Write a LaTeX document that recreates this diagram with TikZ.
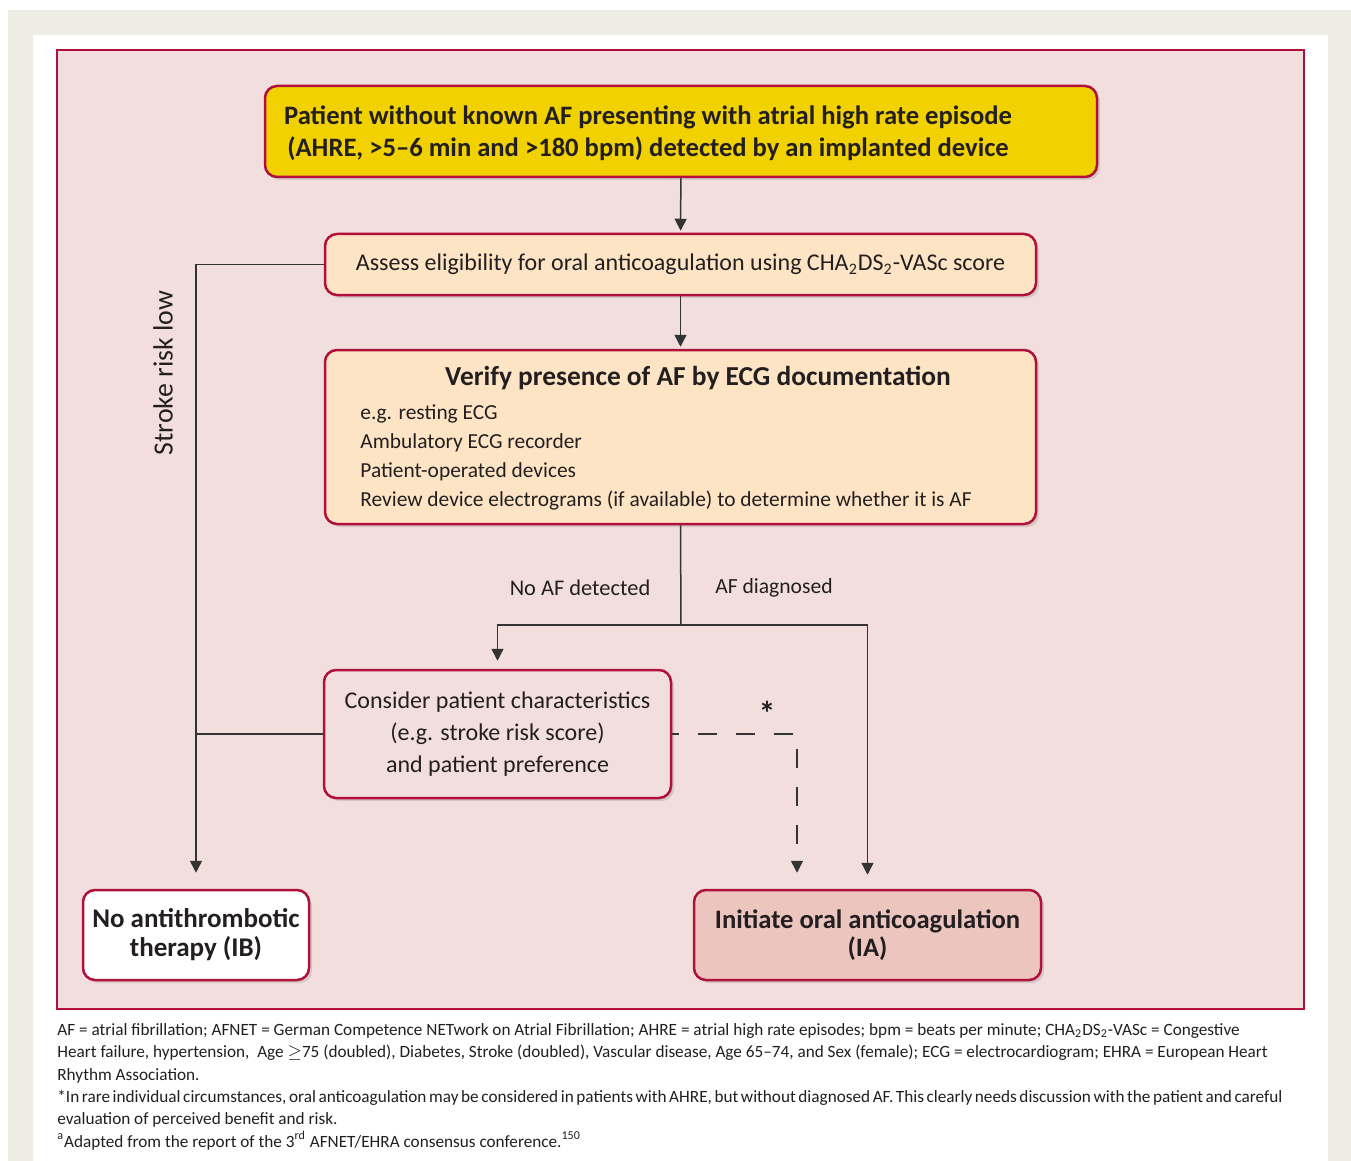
\documentclass[tikz,border=0pt]{standalone}
\usepackage{fontspec}
\setmainfont{Carlito}
\usetikzlibrary{positioning,shadows,arrows.meta}
\definecolor{framebeige}{HTML}{EEEDE3}
\definecolor{panelpink}{HTML}{F2DFDD}
\definecolor{crimson}{HTML}{B0103A}
\definecolor{ahreyellow}{HTML}{F2D100}
\definecolor{peach}{HTML}{FDE4C4}
\definecolor{oacpink}{HTML}{ECC5BF}
\definecolor{linegray}{HTML}{333333}
\definecolor{inkgray}{HTML}{231F20}

\begin{document}
\begin{tikzpicture}[x=0.5pt, y=-0.5pt, >={Triangle[width=6pt,length=6pt]},
    box/.style={draw=crimson, line width=1.25pt, rounded corners=6pt, inner sep=0pt,
        align=center, text=inkgray,
        drop shadow={opacity=0.25, shadow xshift=1.5pt, shadow yshift=-1.5pt}},
    link/.style={draw=linegray, line width=0.75pt},
    txt/.style={text=inkgray, inner sep=0pt},
    mid/.style={font=\fontsize{12}{16}\selectfont}]
    \useasboundingbox (0,0) rectangle (1351,1161);

    % page frame and panel
    \fill[white] (0,0) rectangle (1351,1161);
    \fill[framebeige] (8,10) rectangle (1351,1161);
    \fill[white] (33,35) rectangle (1328,1161);
    \filldraw[fill=panelpink, draw=crimson, line width=0.75pt] (57,50) rectangle (1304,1009);

    % boxes
    \node[box, fill=ahreyellow, minimum width=416pt, minimum height=45.5pt] (ahre) at (681,131.5) {};
    \node[txt, align=center, font=\fontsize{13.3}{16}\selectfont\bfseries] (ahretext) at (648,133)
        {Patient without known AF presenting with atrial high rate episode\\
         (AHRE, >5--6 min and >180 bpm) detected by an implanted device};
    \node[box, fill=peach, mid, minimum width=355.5pt, minimum height=30.5pt] (assess) at (680.5,264.5)
        {Assess eligibility for oral anticoagulation using CHA\textsubscript{2}DS\textsubscript{2}-VASc score};
    \node[box, fill=peach, minimum width=355.5pt, minimum height=87pt] (verify) at (680.5,437) {};
    \node[txt, font=\fontsize{13.7}{15}\selectfont\bfseries] (verifyhead) at (698,378)
        {Verify presence of AF by ECG documentation};
    \node[txt, align=left, anchor=west, font=\fontsize{10.7}{14.5}\selectfont] (verifylist) at (360,457)
        {e.g. resting ECG\\
         Ambulatory ECG recorder\\
         Patient-operated devices\\
         Review device electrograms (if available) to determine whether it is AF};
    \node[box, fill=panelpink, mid, minimum width=173.5pt, minimum height=64pt] (consider) at (497.5,734)
        {Consider patient characteristics\\
         (e.g. stroke risk score)\\
         and patient preference};
    \node[box, fill=white, font=\fontsize{13.5}{14.5}\selectfont\bfseries, minimum width=113pt, minimum height=45pt] (noat) at (196,935)
        {No antithrombotic\\ therapy (IB)};
    \node[box, fill=oacpink, font=\fontsize{13.3}{14}\selectfont\bfseries, minimum width=173.5pt, minimum height=45pt] (oac) at (867.5,935)
        {Initiate oral anticoagulation\\ (IA)};

    % labels
    \node[txt, font=\fontsize{11.2}{14}\selectfont] (noaf) at (580,588) {No AF detected};
    \node[txt, font=\fontsize{10.8}{14}\selectfont] (afdx) at (774,588) {AF diagnosed};
    \node[txt, font=\fontsize{17}{17}\selectfont\bfseries] (star) at (767,713) {*};
    \node[txt, rotate=90, font=\fontsize{13.9}{14}\selectfont] (stroke) at (163,373) {Stroke risk low};

    % connectors
    \coordinate (split) at (681,625);
    \draw[link, ->, shorten >=1pt] (ahre) -- (assess);
    \draw[link, ->, shorten >=1pt] (assess) -- (verify);
    \draw[link] (verify.south) -- (split);
    \draw[link, ->, shorten >=4pt] (split) -| (consider.north);
    \draw[link, ->, shorten >=7pt] (split) -| (oac.north);
    \draw[link, ->, shorten >=8pt] (assess.west) -| (noat.north);
    \draw[link] (consider.west) -- (consider.west -| noat.north);
    \draw[link, ->, dash pattern=on 9.5pt off 9.5pt, dash phase=6pt, shorten >=8pt]
        (consider.east) -| ([xshift=-35.25pt]oac.north);

    % footnotes
    \node[txt, align=left, anchor=north west, font=\fontsize{8.6}{11.2}\selectfont] (notes) at (57,1023)
        {AF = atrial fibrillation; AFNET = German Competence NETwork on Atrial Fibrillation; AHRE = atrial high rate episodes; bpm = beats per minute; CHA\textsubscript{2}DS\textsubscript{2}-VASc = Congestive\\
         Heart failure, hypertension,\ \ Age $\geq$75 (doubled), Diabetes, Stroke (doubled), Vascular disease, Age 65--74, and Sex (female); ECG = electrocardiogram; EHRA = European Heart\\
         Rhythm Association.\\
         {\spaceskip=1.3pt *In rare individual circumstances, oral anticoagulation may be considered in patients with AHRE, but without diagnosed AF. This clearly needs discussion with the patient and careful}\\
         evaluation of perceived benefit and risk.\\
         \textsuperscript{a}Adapted from the report of the 3\textsuperscript{rd} AFNET/EHRA consensus conference.\textsuperscript{150}};
\end{tikzpicture}
\end{document}
